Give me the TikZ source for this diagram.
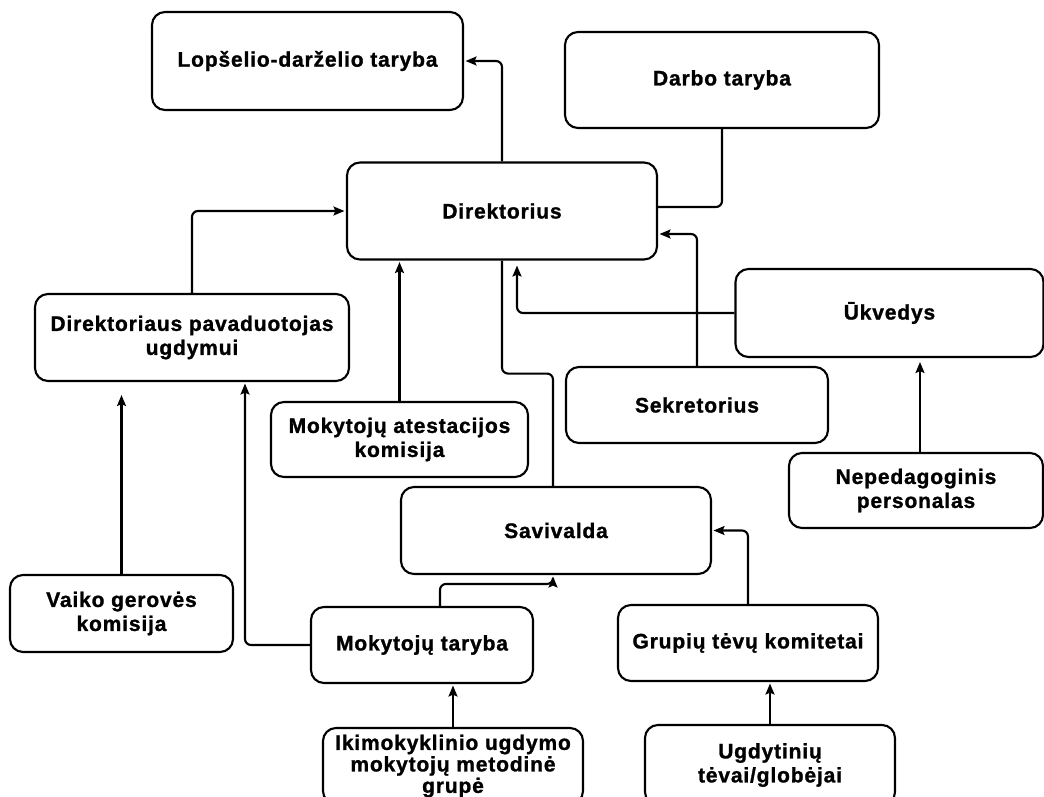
\documentclass[tikz,border=0pt]{standalone}
\usepackage{fontspec}
\newfontfamily\boxfont[LetterSpace=4, BoldFeatures={FakeBold=1.2}]{Liberation Sans}
\usetikzlibrary{arrows.meta}

\begin{document}
\begin{tikzpicture}[x=1pt,y=-1pt,
        unit/.style={draw, line width=2.1pt, rounded corners=13pt, align=center, inner sep=2pt,
            font=\boxfont\bfseries\fontsize{21}{24}\selectfont},
        link/.style={line width=2.1pt, rounded corners=6pt},
        arr/.style={link, -{Stealth[length=11pt,width=9pt,inset=2pt]}, shorten >=1.5pt}]
        \useasboundingbox (0,0) rectangle (1044,797);
        \clip (0,0) rectangle (1044,797);
        \node [unit, minimum width=311pt, minimum height=98pt] (lop) at (307.5,61) {Lopšelio-darželio taryba};
        \node [unit, minimum width=314pt, minimum height=96pt] (darbo) at (722,80) {Darbo taryba};
        \node [unit, minimum width=310pt, minimum height=97pt] (dir) at (502,211) {Direktorius};
        \node [unit, minimum width=314pt, minimum height=87pt] (pav) at (192,337.5) {Direktoriaus pavaduotojas\\ugdymui};
        \node [unit, minimum width=257pt, minimum height=75pt] (ates) at (399.5,439.5) {Mokytojų atestacijos\\komisija};
        \node [unit, minimum width=310pt, minimum height=87pt] (sav) at (556,530.5) {Savivalda};
        \node [unit, minimum width=308pt, minimum height=88pt] (ukv) at (889.5,313) {Ūkvedys};
        \node [unit, minimum width=262pt, minimum height=76pt] (sek) at (697,405) {Sekretorius};
        \node [unit, minimum width=254pt, minimum height=75pt] (nep) at (916,490.5) {Nepedagoginis\\personalas};
        \node [unit, minimum width=223pt, minimum height=77pt] (vaiko) at (121.5,613.5) {Vaiko gerovės\\komisija};
        \node [unit, minimum width=222pt, minimum height=76pt] (mok) at (422,645) {Mokytojų taryba};
        \node [unit, minimum width=260pt, minimum height=76pt] (grup) at (748,643) {Grupių tėvų komitetai};
        \node [unit, minimum width=260pt, minimum height=76pt, font=\boxfont\bfseries\fontsize{21}{21.5}\selectfont] (iki) at (453,766) {Ikimokyklinio ugdymo\\mokytojų metodinė\\grupė};
        \node [unit, minimum width=250pt, minimum height=80pt] (ugd) at (770,765) {Ugdytinių\\tėvai/globėjai};
        \coordinate (nepTop) at ([xshift=4pt]nep.north);
        \draw [arr] (dir.north) |- (lop.east);
        \draw [link] (darbo.south) |- ([yshift=4pt]dir.east);
        \draw [arr] (sek.north) |- ([yshift=-23pt]dir.east);
        \draw [arr, shorten >=5pt] (ukv.west) -| ([xshift=15pt]dir.south);
        \draw [arr] (pav.north) |- (dir.west);
        \draw [arr] (ates.north) -- (ates.north |- dir.south);
        \draw [link] (dir.south) -- ++(0,113) -| ([xshift=-3pt]sav.north);
        \draw [arr] ([xshift=18pt]mok.north) -- ++(0,-22) -| ([xshift=-3pt]sav.south);
        \draw [arr] (mok.west) -| ([xshift=53pt]pav.south);
        \draw [arr, shorten >=13pt] (vaiko.north) -- (vaiko.north |- pav.south);
        \draw [arr] (grup.north) |- (sav.east);
        \draw [arr] (iki.north) -- (iki.north |- mok.south);
        \draw [arr] (ugd.north) -- (ugd.north |- grup.south);
        \draw [arr, shorten >=4pt] (nepTop) -- (nepTop |- ukv.south);
    \end{tikzpicture}
\end{document}
